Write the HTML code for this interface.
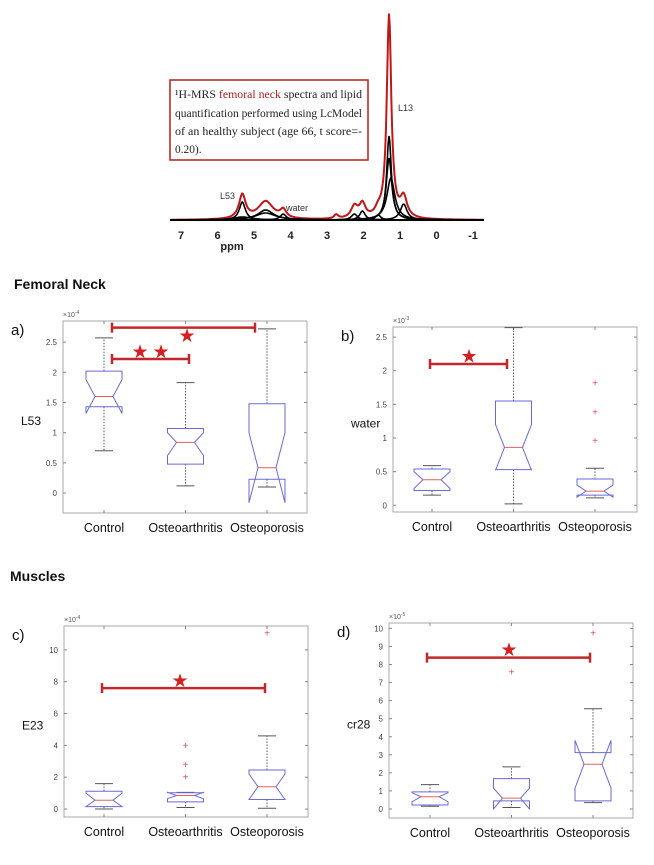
<!DOCTYPE html>
<html><head><meta charset="utf-8"><style>
body{margin:0;background:#fff;width:654px;height:865px;overflow:hidden;font-family:"Liberation Sans",sans-serif}
svg{position:absolute;left:0;top:0}
</style></head><body>
<svg id="fig" width="654" height="865">
<rect x="170" y="80" width="198" height="80" fill="#fff" stroke="#b02020" stroke-width="1.5"/>
<text font-family="Liberation Serif, serif" font-size="11.4" fill="#222">
<tspan x="175" y="98" textLength="187" lengthAdjust="spacingAndGlyphs">¹H-MRS <tspan fill="#b02020">femoral neck</tspan> spectra and lipid</tspan>
<tspan x="175" y="117" textLength="187" lengthAdjust="spacingAndGlyphs">quantification performed using LcModel</tspan>
<tspan x="175" y="135" textLength="187" lengthAdjust="spacingAndGlyphs">of an healthy subject (age 66, t score=-</tspan>
<tspan x="175" y="153">0.20).</tspan></text>
<text x="220" y="199" font-size="9" fill="#333">L53</text>
<text x="286" y="211" font-size="9" fill="#333">water</text>
<text x="398" y="111" font-size="9" fill="#333">L13</text>
<text x="232" y="250" font-size="11" font-weight="bold" fill="#222" text-anchor="middle">ppm</text>
<text x="14" y="289" font-size="14" font-weight="bold" fill="#111">Femoral Neck</text>
<text x="10" y="581" font-size="14" font-weight="bold" fill="#111">Muscles</text>
</svg>
<script>
const svg=document.getElementById('fig');const NS='http://www.w3.org/2000/svg';
function mk(t,a,p){const e=document.createElementNS(NS,t);for(const k in a)e.setAttribute(k,a[k]);(p||svg).appendChild(e);return e;}

// ---- spectrum data ----
const ppmTicks=[7,6,5,4,3,2,1,0,-1];
const redPos=[5.32,4.68,4.2,2.75,2.25,2.03,1.6,1.3,0.9];
const redAmp=[24,18,8,4,12,14,6,204,20];
const redWid=[0.11,0.25,0.1,0.07,0.11,0.1,0.1,0.075,0.11];
const blkPos=[5.32,4.68,4.68,4.2,2.25,2.03,1.6,1.3,1.3,1.25,0.9,5.32];
const blkAmp=[18,10,7,6,6,9,5,84,62,42,16,3];
const blkWid=[0.1,0.26,0.34,0.1,0.1,0.09,0.09,0.075,0.09,0.13,0.11,0.3];
const sx=p=>181+(7-p)*36.5, base=220;
function spec(pos,amp,wid,color,sw,name){
  let d='';for(let i=0;i<=400;i++){const p=7.3-i*8.6/400;let v=0;
    for(let k=0;k<pos.length;k++){const z=(p-pos[k])/wid[k];v+=amp[k]/(1+z*z);}
    d+=(i?'L':'M')+sx(p).toFixed(1)+','+(base-v).toFixed(1);}
  const e=mk('path',{d:d,fill:'none',stroke:color,'stroke-width':sw});
  
  
}
spec(redPos,redAmp,redWid,'#c01818',2,'spectrum-total');
for(let k=0;k<blkPos.length;k++){spec([blkPos[k]],[blkAmp[k]],[blkWid[k]],'#000',1.6,'spectrum-component');}
spec([0],[0],[1],'#000',2,'spectrum-baseline');
ppmTicks.forEach(t=>{const e=mk('text',{x:sx(t),y:239,'font-size':11,'font-weight':'bold','text-anchor':'middle',fill:'#222'});e.textContent=t;
  
  });

// ---- box plot data ----
const cats=['Control','Osteoarthritis','Osteoporosis'];
const aQ1=[1.43,0.48,0.23],aQ3=[2.02,1.07,1.48],aMed=[1.6,0.84,0.42],aNlo=[1.32,0.62,-0.16],aNhi=[1.88,1.0,1.0],aWlo=[0.7,0.12,0.1],aWhi=[2.57,1.83,2.72],aOut=[[],[],[]];
const bQ1=[0.22,0.53,0.15],bQ3=[0.54,1.55,0.39],bMed=[0.38,0.86,0.21],bNlo=[0.25,0.52,0.12],bNhi=[0.5,1.2,0.3],bWlo=[0.15,0.02,0.11],bWhi=[0.59,2.64,0.55],bOut=[[],[],[0.96,1.39,1.82]];
const cQ1=[0.15,0.45,0.6],cQ3=[1.12,1.02,2.45],cMed=[0.55,0.85,1.4],cNlo=[0.15,0.65,0.6],cNhi=[1.0,1.05,2.2],cWlo=[0,0.1,0.05],cWhi=[1.6,1.05,4.6],cOut=[[],[2.0,2.8,4.0],[11.05]];
const dQ1=[0.22,0.45,0.45],dQ3=[0.95,1.68,3.12],dMed=[0.68,0.6,2.48],dNlo=[0.4,0,1.15],dNhi=[0.9,1.15,3.8],dWlo=[0.15,0.08,0.35],dWhi=[1.35,2.33,5.55],dOut=[[],[7.6],[9.75]];
const aTicks=['0','0.5','1','1.5','2','2.5'],bTicks=['0','0.5','1','1.5','2','2.5'],cTicks=['0','2','4','6','8','10'],dTicks=['0','1','2','3','4','5','6','7','8','9','10'];

function panel(o){
  const g=mk('g',{});
  
  
  const y=v=>o.bot-(v-o.ymin)/(o.ymax-o.ymin)*(o.bot-o.top);
  const x=i=>o.x0+i*o.dx;
  const fr=mk('rect',{x:o.left,y:o.top,width:o.right-o.left,height:o.bot-o.top,fill:'#fff',stroke:'#aaa','stroke-width':1},g);
  
  
  o.ticks.forEach(t=>{const v=parseFloat(t),yy=y(v);
    mk('line',{x1:o.left,x2:o.left+3,y1:yy,y2:yy,stroke:'#888'},g);mk('line',{x1:o.right,x2:o.right-3,y1:yy,y2:yy,stroke:'#888'},g);
    const e=mk('text',{x:o.left-6,y:yy+3,'font-size':8,'text-anchor':'end',fill:'#444'},g);e.textContent=t;
    
    });
  const ex=mk('text',{x:o.left,y:o.top-4,'font-size':7,fill:'#555'},g);ex.innerHTML='×10<tspan dy="-3" font-size="5">'+o.exp+'</tspan>';
  
  
  const pl=mk('text',{x:o.left-52,y:o.top+14,'font-size':15,fill:'#111'},g);pl.textContent=o.id+')';
  
  
  const yl=mk('text',{x:o.left-42,y:(o.top+o.bot)/2+8,'font-size':12,fill:'#111'},g);yl.textContent=o.ylab;
  
  
  const w=18,nw=9;
  cats.forEach((c,i)=>{const cx=x(i);
    mk('line',{x1:cx,x2:cx,y1:o.bot,y2:o.bot-3,stroke:'#888'},g);mk('line',{x1:cx,x2:cx,y1:o.top,y2:o.top+3,stroke:'#888'},g);
    const wl=mk('path',{d:`M${cx},${y(o.q3[i])}V${y(o.whi[i])}M${cx},${y(o.q1[i])}V${y(o.wlo[i])}`,stroke:'#333','stroke-dasharray':'1.5,1.5','stroke-width':0.8,fill:'none'},g);
    
    
    const cp=mk('path',{d:`M${cx-nw},${y(o.whi[i])}H${cx+nw}M${cx-nw},${y(o.wlo[i])}H${cx+nw}`,stroke:'#555','stroke-width':1},g);
    
    
    const bx=mk('path',{d:`M${cx-w},${y(o.q3[i])}H${cx+w}V${y(o.nhi[i])}L${cx+nw},${y(o.med[i])}L${cx+w},${y(o.nlo[i])}V${y(o.q1[i])}H${cx-w}V${y(o.nlo[i])}L${cx-nw},${y(o.med[i])}L${cx-w},${y(o.nhi[i])}Z`,fill:'none',stroke:'#6a6ad8','stroke-width':1},g);
    
    
    const md=mk('line',{x1:cx-nw,x2:cx+nw,y1:y(o.med[i]),y2:y(o.med[i]),stroke:'#e06060','stroke-width':1},g);
    
    
    o.out[i].forEach(v=>{const p=mk('text',{x:cx,y:y(v)+3.5,'font-size':10,fill:'#e05050','text-anchor':'middle'},g);p.textContent='+';
      
      });
    const cl=mk('text',{x:cx,y:o.bot+19,'font-size':12.5,fill:'#111','text-anchor':'middle'},g);cl.textContent=c;
    
    
  });
  o.bars.forEach(b=>{const by=y(b.v);
    const bl=mk('path',{d:`M${b.x1},${by}H${b.x2}M${b.x1},${by-5}V${by+5}M${b.x2},${by-5}V${by+5}`,stroke:'#c0282c','stroke-width':2.5,fill:'none'},g);
    
    
    b.stars.forEach(sxp=>{const s=mk('text',{x:sxp,y:y(b.sv)+7,'font-size':19,fill:'#d42020','text-anchor':'middle'},g);s.textContent='★';
      
      });
  });
}
panel({id:'a',left:63,right:307,top:321,bot:513,ymin:-0.33,ymax:2.85,x0:104,dx:81.5,ticks:aTicks,exp:'-4',ylab:'L53',
  q1:aQ1,q3:aQ3,med:aMed,nlo:aNlo,nhi:aNhi,wlo:aWlo,whi:aWhi,out:aOut,
  bars:[{v:2.74,x1:112,x2:255,sv:2.62,stars:[187]},{v:2.22,x1:112,x2:189,sv:2.35,stars:[140,161]}]});
panel({id:'b',left:393,right:637,top:327,bot:512,ymin:-0.1,ymax:2.65,x0:432,dx:81.5,ticks:bTicks,exp:'-3',ylab:'water',
  q1:bQ1,q3:bQ3,med:bMed,nlo:bNlo,nhi:bNhi,wlo:bWlo,whi:bWhi,out:bOut,
  bars:[{v:2.1,x1:430,x2:507,sv:2.23,stars:[469]}]});
panel({id:'c',left:64,right:308,top:626,bot:817,ymin:-0.5,ymax:11.5,x0:104,dx:81.5,ticks:cTicks,exp:'-4',ylab:'E23',
  q1:cQ1,q3:cQ3,med:cMed,nlo:cNlo,nhi:cNhi,wlo:cWlo,whi:cWhi,out:cOut,
  bars:[{v:7.6,x1:102,x2:265,sv:8.1,stars:[180]}]});
panel({id:'d',left:389,right:633,top:623,bot:818,ymin:-0.5,ymax:10.3,x0:430,dx:81.5,ticks:dTicks,exp:'-5',ylab:'cr28',
  q1:dQ1,q3:dQ3,med:dMed,nlo:dNlo,nhi:dNhi,wlo:dWlo,whi:dWhi,out:dOut,
  bars:[{v:8.38,x1:427,x2:590,sv:8.85,stars:[509]}]});
</script>
</body></html>
